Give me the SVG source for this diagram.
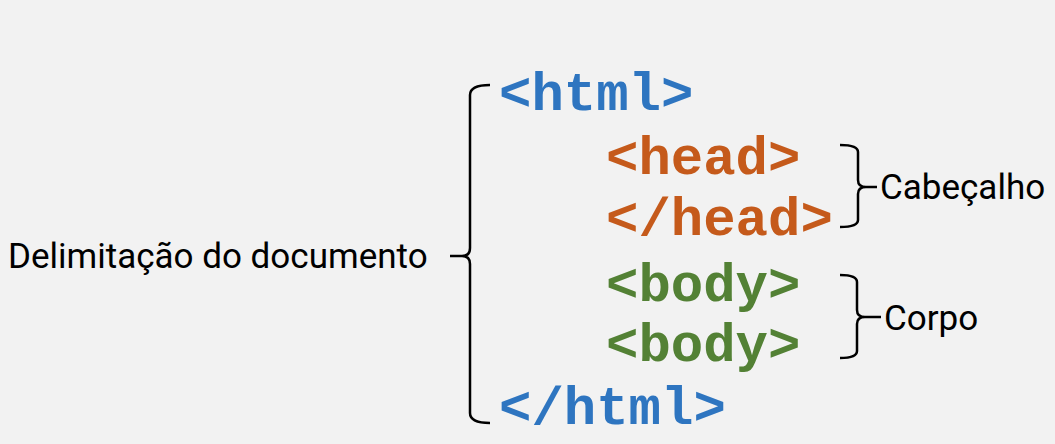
<svg xmlns="http://www.w3.org/2000/svg" width="1055" height="444" viewBox="0 0 1055 444">
<style>
.code{font-family:"Liberation Mono","Courier New",monospace;font-weight:bold;font-size:54px}
.blue{fill:#2e75c0}
.orange{fill:#c55a1b}
.green{fill:#538135}
.lbl{font-family:Roboto,"Liberation Sans",sans-serif;font-size:35px;fill:#000}
.brace{fill:none;stroke:#000;stroke-width:2.5;stroke-linecap:butt;stroke-linejoin:round}
</style>
<rect width="1055" height="444" fill="#f2f2f2"/>
<g id="html-open"><text class="code blue" x="499" y="110">&lt;html&gt;</text></g>
<g id="head-open"><text class="code orange" x="606" y="174">&lt;head&gt;</text></g>
<g id="head-close"><text class="code orange" x="606" y="235">&lt;/head&gt;</text></g>
<g id="body-open"><text class="code green" x="606" y="301">&lt;body&gt;</text></g>
<g id="body-close"><text class="code green" x="606" y="361">&lt;body&gt;</text></g>
<g id="html-close"><text class="code blue" x="499" y="424">&lt;/html&gt;</text></g>
<g id="label-doc"><text class="lbl" x="8" y="268">Delimitação do documento</text></g>
<g id="label-head"><text class="lbl" x="880" y="199">Cabeçalho</text></g>
<g id="label-body"><text class="lbl" x="884" y="330">Corpo</text></g>
<g id="connectors">
<path class="brace" d="M490 85 Q470 85 470 95 V248 Q470 256 462 256 L450 256 M462 256 Q470 256 470 264 V413 Q470 423 490 423"/>
<path class="brace" d="M840 145 Q858 145 858 152 V180 Q858 187 866 187 L877 187 M866 187 Q858 187 858 194 V220 Q858 227 840 227"/>
<path class="brace" d="M840 275 Q857 275 857 282 V310 Q857 317 865 317 L881 317 M865 317 Q857 317 857 324 V351 Q857 358 840 358"/>
</g>
</svg>
